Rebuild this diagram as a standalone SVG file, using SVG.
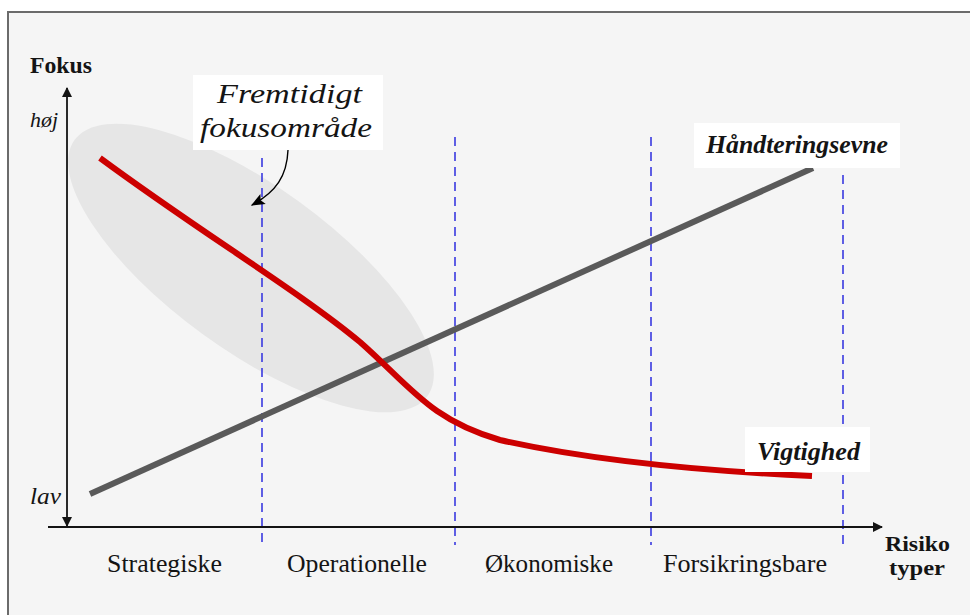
<svg xmlns="http://www.w3.org/2000/svg" width="970" height="615" viewBox="0 0 970 615">
  <defs>
    <style>
      .serif { font-family: "Liberation Serif", "Times New Roman", serif; fill: #141414; }
      .bold { font-weight: bold; }
      .ital { font-style: italic; }
      .cat { font-size: 26px; }
      .div { stroke: #3a3ae0; stroke-width: 1.6; stroke-dasharray: 9 6; fill: none; }
      .axis { stroke: #141414; stroke-width: 1.8; fill: none; }
      .tag { fill: #ffffff; }
    </style>
    <marker id="axisHead" viewBox="0 0 10 10" refX="9" refY="5" markerWidth="10" markerHeight="10" markerUnits="userSpaceOnUse" orient="auto">
      <path d="M0,0 L10,5 L0,10 Z" fill="#141414"/>
    </marker>
    <marker id="noteHead" viewBox="0 0 10 10" refX="9" refY="5" markerWidth="16" markerHeight="14" markerUnits="userSpaceOnUse" orient="auto">
      <path d="M0,1 L10,5 L0,9 L2,5 Z" fill="#000000"/>
    </marker>
  </defs>

  <!-- page and panel -->
  <rect x="0" y="0" width="970" height="615" fill="#ffffff"/>
  <rect x="8" y="12" width="980" height="620" fill="#f5f5f5" stroke="#6b6b6b" stroke-width="2"/>

  <!-- focus area -->
  <g id="focus-area">
    <ellipse cx="251" cy="268" rx="218" ry="82" transform="rotate(36 251 268)" fill="#e6e6e6"/>
  </g>

  <!-- category dividers -->
  <g id="dividers">
    <line class="div" x1="262" y1="158" x2="262" y2="545"/>
    <line class="div" x1="455" y1="137" x2="455" y2="545"/>
    <line class="div" x1="651" y1="137" x2="651" y2="545"/>
    <line class="div" x1="843" y1="175" x2="843" y2="545"/>
  </g>

  <!-- axes -->
  <g id="axes">
    <line class="axis" x1="67" y1="300" x2="67" y2="88" marker-end="url(#axisHead)"/>
    <line class="axis" x1="67" y1="300" x2="67" y2="526" marker-end="url(#axisHead)"/>
    <line class="axis" x1="48" y1="527" x2="882" y2="527" marker-end="url(#axisHead)"/>
  </g>

  <!-- curves -->
  <g id="connectors">
    <line id="capability" x1="90" y1="494" x2="813" y2="168" stroke="#5a5a5a" stroke-width="6"/>
    <path id="importance" d="M100,158 C200,232 300,292 360,342 C410,386 430,420 500,440 C580,458 680,470 812,476" fill="none" stroke="#cc0000" stroke-width="6"/>
    <path id="note-pointer" d="M288,150 C287,176 276,192 252,205" fill="none" stroke="#000000" stroke-width="1.4" marker-end="url(#noteHead)"/>
  </g>

  <!-- axis labels -->
  <g id="y-axis-labels">
    <text class="serif bold" x="30" y="73" font-size="24" textLength="62" lengthAdjust="spacingAndGlyphs">Fokus</text>
    <text class="serif ital" x="30" y="127" font-size="21" textLength="28" lengthAdjust="spacingAndGlyphs">høj</text>
    <text class="serif ital" x="30" y="504" font-size="23" textLength="31" lengthAdjust="spacingAndGlyphs">lav</text>
  </g>
  <g id="x-axis-label">
    <text class="serif bold" x="885" y="551" font-size="20" textLength="65" lengthAdjust="spacingAndGlyphs">Risiko</text>
    <text class="serif bold" x="889" y="575" font-size="20" textLength="56" lengthAdjust="spacingAndGlyphs">typer</text>
  </g>

  <!-- categories -->
  <g id="categories">
    <text class="serif cat" x="107" y="572" textLength="115" lengthAdjust="spacingAndGlyphs">Strategiske</text>
    <text class="serif cat" x="287" y="572" textLength="140" lengthAdjust="spacingAndGlyphs">Operationelle</text>
    <text class="serif cat" x="485" y="572" textLength="128" lengthAdjust="spacingAndGlyphs">Økonomiske</text>
    <text class="serif cat" x="663" y="572" textLength="164" lengthAdjust="spacingAndGlyphs">Forsikringsbare</text>
  </g>

  <!-- callouts -->
  <g id="note-focus">
    <rect class="tag" x="193" y="75" width="190" height="75"/>
    <text class="serif ital" x="217" y="103" font-size="27" textLength="145" lengthAdjust="spacingAndGlyphs">Fremtidigt</text>
    <text class="serif ital" x="200" y="137" font-size="27" textLength="172" lengthAdjust="spacingAndGlyphs">fokusområde</text>
  </g>
  <g id="label-capability">
    <rect class="tag" x="694" y="123" width="206" height="45"/>
    <text class="serif bold ital" x="706" y="153" font-size="25" textLength="182" lengthAdjust="spacingAndGlyphs">Håndteringsevne</text>
  </g>
  <g id="label-importance">
    <rect class="tag" x="745" y="427" width="125" height="45"/>
    <text class="serif bold ital" x="757" y="460" font-size="25" textLength="103" lengthAdjust="spacingAndGlyphs">Vigtighed</text>
  </g>
</svg>
